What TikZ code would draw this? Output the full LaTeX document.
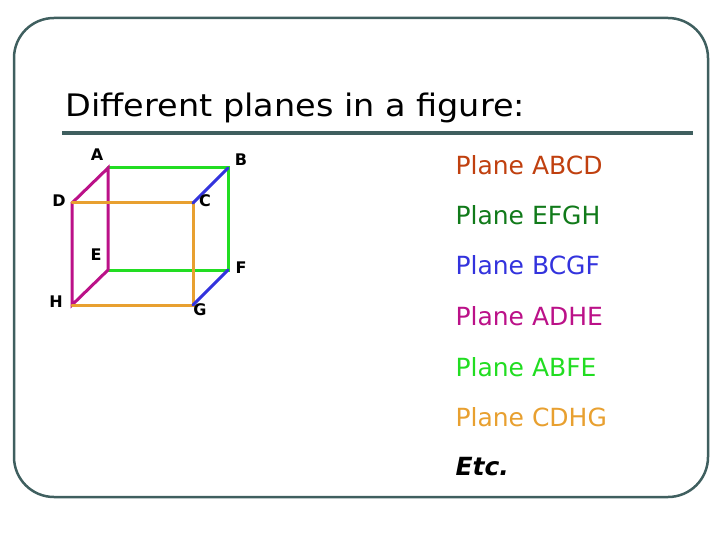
\documentclass[tikz,border=0pt]{standalone}
\usepackage{fontspec}
\setmainfont{DejaVu Sans}
\begin{document}
\begin{tikzpicture}[x=1pt,y=-1pt,
  edge/.style={line width=3pt,line cap=round},
  lbl/.style={font=\fontsize{16}{16}\selectfont\bfseries},
  plane/.style={anchor=west,font=\fontsize{25}{25}\selectfont}]
\definecolor{frame}{HTML}{3F5F5F}
\definecolor{cred}{HTML}{C0400F}
\definecolor{cdgreen}{HTML}{117A1A}
\definecolor{cblue}{HTML}{3333DD}
\definecolor{cmag}{HTML}{BB1188}
\definecolor{cgreen}{HTML}{22DD22}
\definecolor{corange}{HTML}{E8A030}
\useasboundingbox (0,0) rectangle (720,540);
\draw[frame,line width=2.5pt,rounded corners=40pt] (14,18) rectangle (708,497);
\node[anchor=west,font=\fontsize{31}{31}\selectfont,xscale=1.08] (title) at (62,108) {Different planes in a figure:};
\coordinate (u1) at (62,133); \coordinate (u2) at (693,133);
\draw[frame,line width=4pt] (u1) -- (u2);
\coordinate (A) at (108,168); \coordinate (B) at (228,168);
\coordinate (D) at (72,203); \coordinate (C) at (193,203);
\coordinate (E) at (108,270); \coordinate (F) at (228,270);
\coordinate (H) at (72,305); \coordinate (G) at (193,305);
\draw[edge,cgreen] (A) -- (B) -- (F) -- (E);
\draw[edge,cmag] (E) -- (A) -- (D) -- (H) -- (E);
\draw[edge,corange] (D) -- (C) -- (G) -- (H);
\draw[edge,cblue] (B) -- (C) (F) -- (G);
\node[lbl] (lA) at (97,155) {A};
\node[lbl] (lB) at (241,160) {B};
\node[lbl] (lD) at (59,201) {D};
\node[lbl] (lC) at (205,201) {C};
\node[lbl] (lE) at (96,255) {E};
\node[lbl] (lF) at (241,268) {F};
\node[lbl] (lH) at (56,302) {H};
\node[lbl] (lG) at (200,310) {G};
\node[plane,cred] (p1) at (452,165) {Plane ABCD};
\node[plane,cdgreen] (p2) at (452,215) {Plane EFGH};
\node[plane,cblue] (p3) at (452,265) {Plane BCGF};
\node[plane,cmag] (p4) at (452,316) {Plane ADHE};
\node[plane,cgreen] (p5) at (452,367) {Plane ABFE};
\node[plane,corange] (p6) at (452,417) {Plane CDHG};
\node[plane,font=\fontsize{25}{25}\selectfont\itshape\bfseries] (p7) at (452,467) {Etc.};
\end{tikzpicture}
\end{document}
